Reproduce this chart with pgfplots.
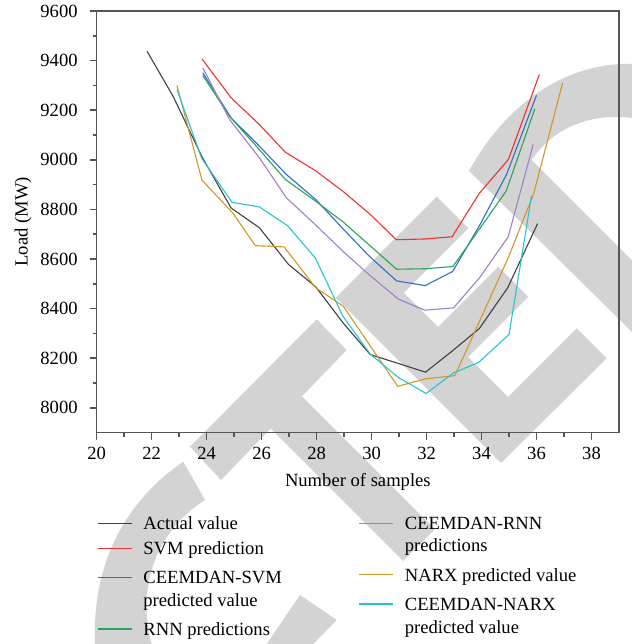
\documentclass[border=0pt]{standalone}
\usepackage{fontspec}
\setmainfont{Liberation Serif}
\usepackage{pgfplots}
\pgfplotsset{compat=1.18}

\definecolor{cActual}{RGB}{64,64,64}
\definecolor{cSVM}{RGB}{238,50,50}
\definecolor{cCSVM}{RGB}{52,108,196}
\definecolor{cRNN}{RGB}{40,165,90}
\definecolor{cCRNN}{RGB}{160,128,200}
\definecolor{cNARX}{RGB}{212,150,40}
\definecolor{cCNARX}{RGB}{40,196,206}
\definecolor{wm}{RGB}{211,211,211}
\definecolor{axisgray}{RGB}{85,85,85}

\newcommand{\chartfont}{\fontsize{9.3}{11.35}\selectfont}

\pgfplotsset{
  loadaxis/.style={
    scale only axis, width=261.15pt, height=210.85pt,
    at={(48.35pt,105.65pt)}, anchor=south west,
    xmin=20, xmax=39, ymin=7900, ymax=9600,
  },
  legendbase/.style={
    legend style={draw=none, fill=none, font=\chartfont,
      column sep=3.5pt, inner sep=0pt},
    legend cell align=left,
  },
}

% one legend line, its box placed at (x,y) of the axis description;
% #3 is the line sample's style
\newcommand{\legendentryat}[4]{%
  \begin{axis}[loadaxis, legendbase, hide axis,
    legend style={at={(axis description cs:#1,#2)}, anchor=north west}]
  \addlegendimage{legend image code/.code={%
    \draw[#3, line width=0.6pt] (0cm,0cm) -- (0.6cm,0cm);}}
  \addlegendentry{\strut#4}
  \end{axis}}

\begin{document}
\begin{tikzpicture}
% background watermark
\begin{scope}[x=0.5pt,y=-0.5pt,yshift=322pt]
  \clip (0,0) rectangle (632,644);
  % T-shaped mark
  \fill[wm] (190,446.7) -- (316.7,319.3) -- (346.7,350) -- (221,480) -- cycle;
  \fill[wm] (301.1,395.6) -- (434.75,529.25) -- (403,561) -- (269.35,427.35) -- cycle;
  % E-shaped mark
  \fill[wm] (335.7,297.7) -- (436.7,196.7) -- (468.3,228.3) -- (403.8,292.8)
     -- (438,327) -- (498.3,266.7) -- (528.3,296.7) -- (468,357)
     -- (508,397) -- (576.7,328.3) -- (606.7,358.3) -- (501,463) -- cycle;
  % arc at the upper right
  \fill[wm] (469,171) .. controls (505,105) and (565,62) .. (632,64)
     -- (632,118) .. controls (595,113) and (555,125) .. (531.7,160)
     -- (632,260.3) -- (632,332) -- cycle;
  % arc at the lower left
  \fill[wm] (183.3,461.7) .. controls (120,505) and (92,570) .. (95,644)
     -- (151.7,644) .. controls (138,595) and (150,535) .. (205,500) -- cycle;
  \fill[wm] (266.7,644) -- (300,595) -- (336.7,620) -- (313.3,644) -- cycle;
\end{scope}

\begin{axis}[
  loadaxis,
  font=\chartfont,
  xtick={20,22,...,38}, ytick={8000,8200,...,9600},
  minor x tick num=1, minor y tick num=1,
  tick align=outside, xtick pos=bottom, ytick pos=left,
  major tick length=3.5pt, minor tick length=2pt,
  axis line style={line width=0.8pt, draw=axisgray},
  every tick/.style={line width=0.8pt, draw=axisgray},
  /pgf/number format/assume math mode=true,
  /pgf/number format/set thousands separator={},
  yticklabel style={xshift=-2.5pt},
  xlabel={Number of samples}, ylabel={Load (MW)},
  every axis x label/.style={at={(axis description cs:0.5,-0.117)}, anchor=center},
  every axis y label/.style={at={(axis description cs:-0.141,0.5)}, rotate=90, anchor=center},
  every axis plot/.append style={line width=0.55pt},
]
% Actual value
\addplot[cActual] coordinates {
  (21.83,9438) (22.78,9256) (23.84,9010) (24.89,8806) (25.92,8726)
  (26.98,8578) (27.97,8488) (28.96,8343) (29.95,8215) (30.95,8180)
  (31.96,8144) (32.92,8228) (33.92,8320) (34.95,8484) (36.04,8743)
};
% SVM prediction
\addplot[cSVM] coordinates {
  (23.83,9407) (24.89,9250) (25.92,9142) (26.86,9031) (27.95,8957)
  (28.96,8873) (29.96,8779) (30.9,8678) (31.96,8681) (32.93,8690)
  (33.92,8865) (34.98,9002) (36.1,9343)
};
% CEEMDAN-SVM predicted value
\addplot[cCSVM] coordinates {
  (23.86,9351) (24.89,9169) (25.92,9055) (26.9,8941) (27.97,8840)
  (28.96,8722) (29.92,8611) (30.91,8512) (31.95,8493) (32.95,8550)
  (33.95,8740) (34.91,8941) (36.0,9260)
};
% RNN predictions
\addplot[cRNN] coordinates {
  (23.86,9340) (24.83,9176) (25.92,9041) (26.86,8921) (27.97,8833)
  (28.96,8750) (29.9,8658) (30.91,8559) (31.96,8561) (32.96,8570)
  (33.95,8725) (34.9,8875) (35.94,9206)
};
% CEEMDAN-RNN predictions
\addplot[cCRNN] coordinates {
  (23.86,9371) (24.83,9163) (25.92,9008) (26.9,8847) (27.97,8737)
  (28.96,8631) (29.9,8538) (30.98,8438) (31.93,8394) (32.98,8403)
  (33.93,8525) (34.97,8690) (35.88,9062)
};
% NARX predicted value
\addplot[cNARX] coordinates {
  (22.92,9300) (23.83,8918) (24.95,8786) (25.77,8654) (26.82,8649)
  (27.97,8484) (28.97,8410) (29.95,8250) (30.95,8087) (31.96,8117)
  (33.03,8130) (33.95,8355) (34.97,8605) (35.9,8865) (36.95,9310)
};
% CEEMDAN-NARX predicted value
\addplot[cCNARX] coordinates {
  (22.92,9283) (23.82,9006) (24.92,8829) (25.92,8810) (26.94,8735)
  (27.95,8605) (28.96,8369) (29.95,8217) (30.97,8123) (31.98,8058)
  (32.98,8141) (33.89,8183) (35.0,8296) (35.82,8856)
};
\end{axis}

% legend, left column (second text lines carry an invisible sample)
\legendentryat{0}{-0.1821}{cActual}{Actual value}
\legendentryat{0}{-0.2414}{cSVM}{SVM prediction}
\legendentryat{0}{-0.3102}{cCSVM}{CEEMDAN-SVM}
\legendentryat{0}{-0.3638}{draw opacity=0}{predicted value}
\legendentryat{0}{-0.4325}{cRNN}{RNN predictions}
% legend, right column
\legendentryat{0.5006}{-0.1821}{cCRNN}{CEEMDAN-RNN}
\legendentryat{0.5006}{-0.2333}{draw opacity=0}{predictions}
\legendentryat{0.5006}{-0.3038}{cNARX}{NARX predicted value}
\legendentryat{0.5006}{-0.3733}{cCNARX}{CEEMDAN-NARX}
\legendentryat{0.5006}{-0.4271}{draw opacity=0}{predicted value}

\pgfresetboundingbox
\useasboundingbox (0,0) rectangle (316pt,322pt);
\end{tikzpicture}
\end{document}
